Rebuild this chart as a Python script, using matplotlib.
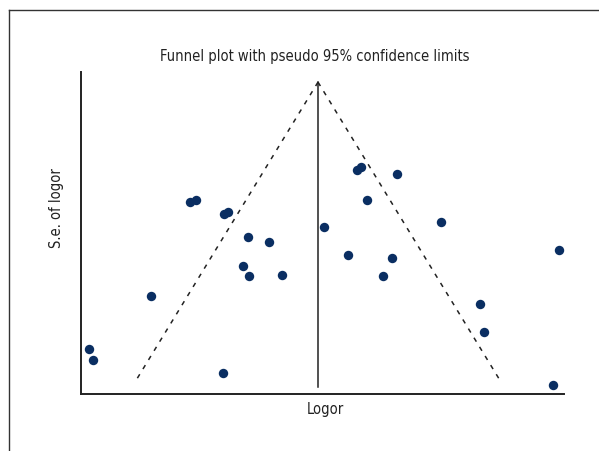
import numpy as np
import matplotlib.pyplot as plt
from matplotlib.lines import Line2D

# Оценки исследований: log odds ratio и его стандартная ошибка
logor = [-1.46, -1.43, -0.93, -0.60, -0.545, -0.305, -0.27, -0.10, 0.08,
         -0.143, -0.09, 0.19, -0.314, 0.55, 0.757, 0.834, 0.868, 0.92,
         1.177, 1.057, 1.134, 1.554, 1.888, 1.922, 2.565, 2.514]
se_logor = [0.712, 0.741, 0.571, 0.320, 0.315, 0.352, 0.347, 0.413, 0.427,
            0.491, 0.517, 0.515, 0.776, 0.387, 0.461, 0.235, 0.227, 0.315,
            0.245, 0.517, 0.469, 0.373, 0.592, 0.667, 0.448, 0.808]

pooled = 0.5      # общая оценка
se_max = 0.80     # нижняя граница псевдо-доверительных линий

plt.rcParams['font.family'] = ['DejaVu Sans']
plt.rcParams['font.stretch'] = 'condensed'

W, H = 599, 452
fig = plt.figure(figsize=(W / 100, H / 100), dpi=100)

# Рамка вокруг рисунка (открыта справа и снизу)
fx, fy = 8.5 / W, 1 - 10.5 / H
fig.add_artist(Line2D([fx, fx], [0, fy], transform=fig.transFigure, color='#333333', lw=1.0))
fig.add_artist(Line2D([fx, 1], [fy, fy], transform=fig.transFigure, color='#333333', lw=1.0))

ax = fig.add_axes([81 / W, 1 - 395 / H, (564 - 81) / W, (395 - 73) / H])

# Псевдо 95% доверительные границы
se_line = np.array([0, se_max])
ax.plot(pooled - 1.96 * se_line, se_line, color='#222222', lw=1.1, ls=(0, (3, 4)))
ax.plot(pooled + 1.96 * se_line, se_line, color='#222222', lw=1.1, ls=(0, (3, 4)))
ax.plot([pooled, pooled], [0, 0.813], color='#222222', lw=1.1)

ax.scatter(logor, se_logor, s=46, color='#0a2e62', zorder=3, linewidths=0)

ax.set_xlim(-1.531, 2.608)
ax.set_ylim(0.832, -0.027)

for side in ['top', 'right']:
    ax.spines[side].set_visible(False)
for side in ['left', 'bottom']:
    ax.spines[side].set_color('#222222')
    ax.spines[side].set_linewidth(1.4)
ax.set_xticks([])
ax.set_yticks([])

fig.text(315 / W, 1 - 57 / H, 'Funnel plot with pseudo 95% confidence limits',
         ha='center', va='center', fontsize=10.5, color='#222222')
fig.text(325 / W, 1 - 410 / H, 'Logor', ha='center', va='center',
         fontsize=10.5, color='#222222')
fig.text(57 / W, 1 - 208 / H, 'S.e. of logor', ha='center', va='center',
         rotation=90, fontsize=10.5, color='#222222')

fig.savefig('out.png', dpi=100)
